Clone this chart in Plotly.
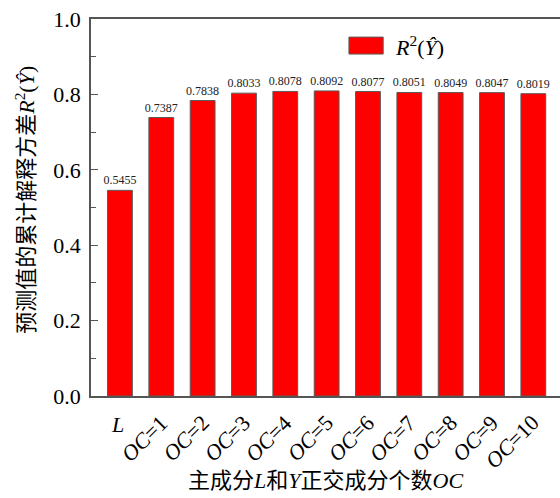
import plotly.graph_objects as go

# Cumulative explained variance of the predictions for each model setting
categories = ["L", "OC=1", "OC=2", "OC=3", "OC=4", "OC=5",
              "OC=6", "OC=7", "OC=8", "OC=9", "OC=10"]
tick_labels = ["<i>L</i>"] + [f"<i>OC</i>={k}" for k in range(1, 11)]
r2_values = [0.5455, 0.7387, 0.7838, 0.8033, 0.8078, 0.8092,
             0.8077, 0.8051, 0.8049, 0.8047, 0.8019]

SERIF = '"Liberation Serif", "Noto Sans CJK SC", serif'
positions = list(range(len(categories)))

fig = go.Figure()
fig.add_trace(go.Bar(
    x=positions,
    y=r2_values,
    width=0.6,
    marker=dict(color="#FF0000", line=dict(color="#5a5a5a", width=1)),
    text=[f"{v:.4f}" for v in r2_values],
    textposition="outside",
    constraintext="none",
    textfont=dict(family=SERIF, size=12, color="#222"),
    cliponaxis=False,
    showlegend=False,
))

# Category labels under the axis: L upright, OC=k slanted
annotations = []
for i, lab in zip(positions, tick_labels):
    if i == 0:
        annotations.append(dict(x=i - 0.05, y=-0.036, xref="x", yref="paper",
                                text=lab, showarrow=False, textangle=0,
                                xanchor="center", yanchor="top",
                                font=dict(family=SERIF, size=22, color="black")))
    else:
        annotations.append(dict(x=i + 0.33, y=-0.030, xref="x", yref="paper",
                                text=lab, showarrow=False, textangle=-45,
                                xanchor="right", yanchor="top",
                                font=dict(family=SERIF, size=22, color="black")))

# Axis titles
annotations.append(dict(x=0.5, y=-0.225, xref="paper", yref="paper",
                        text="主成分<i>L</i>和<i>Y</i>正交成分个数<i>OC</i>",
                        showarrow=False, xanchor="center", yanchor="middle",
                        font=dict(family=SERIF, size=22, color="black")))
annotations.append(dict(x=-0.141, y=0.52, xref="paper", yref="paper",
                        text="预测值的累计解释方差<i>R</i><sup>2</sup>(<i>Ŷ</i>)",
                        showarrow=False, textangle=-90,
                        xanchor="center", yanchor="middle",
                        font=dict(family=SERIF, size=22, color="black")))

# Legend entry: swatch + label
annotations.append(dict(x=0.644, y=0.928, xref="paper", yref="paper",
                        text="<i>R</i><sup>2</sup>(<i>Ŷ</i>)",
                        showarrow=False, xanchor="left", yanchor="middle",
                        font=dict(family=SERIF, size=22, color="black")))
shapes = [dict(type="rect", xref="paper", yref="paper",
               x0=0.550, x1=0.623, y0=0.907, y1=0.952,
               fillcolor="#FF0000", line=dict(color="#5a5a5a", width=1))]

fig.update_layout(
    width=560, height=498,
    margin=dict(l=91, r=0, t=19, b=102),
    paper_bgcolor="white", plot_bgcolor="white",
    font=dict(family=SERIF),
    bargap=0.4,
    annotations=annotations,
    shapes=shapes,
    xaxis=dict(
        range=[-0.7, 10.645],
        showticklabels=False, ticks="",
        showline=True, linecolor="#555", linewidth=1.5, mirror=True,
        showgrid=False, zeroline=False, fixedrange=True,
    ),
    yaxis=dict(
        range=[0, 1.0],
        tickvals=[0, 0.2, 0.4, 0.6, 0.8, 1.0],
        ticktext=["0.0", "0.2", "0.4", "0.6", "0.8", "1.0"],
        ticks="inside", ticklen=7, tickwidth=1.2, tickcolor="#555",
        minor=dict(dtick=0.1, ticks="inside", ticklen=5, tickwidth=1.2,
                   tickcolor="#555", showgrid=False),
        ticklabelstandoff=4,
        tickfont=dict(family=SERIF, size=22, color="black"),
        showline=True, linecolor="#555", linewidth=1.5, mirror=False,
        showgrid=False, zeroline=False, fixedrange=True,
    ),
)

fig.write_html("out.html")
